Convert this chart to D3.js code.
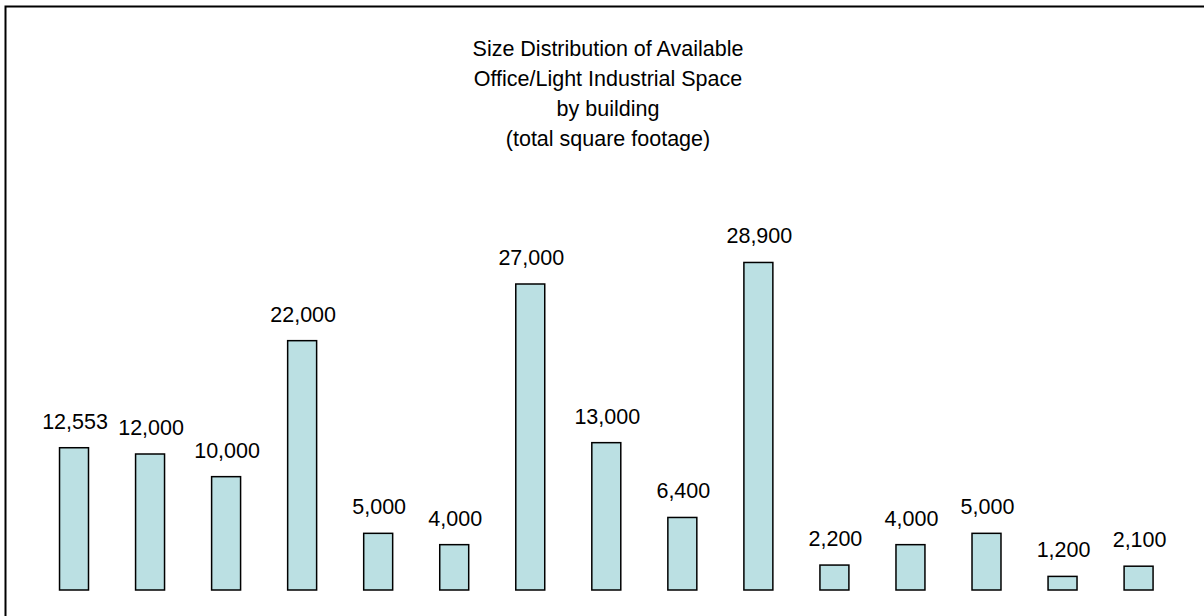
<!DOCTYPE html>
<html>
<head>
<meta charset="utf-8">
<script src="https://cdn.jsdelivr.net/npm/d3@7"></script>
<style>
  html, body { margin: 0; padding: 0; background: #fff; }
  svg { display: block; }
  text { font-family: "Liberation Sans", Arial, sans-serif; fill: #000; }
</style>
</head>
<body>
<svg id="chart" width="1204" height="616"></svg>
<script>
// Buildings with available office / light industrial space
const buildings = ["B1", "B2", "B3", "B4", "B5", "B6", "B7", "B8", "B9", "B10", "B11", "B12", "B13", "B14", "B15"];
// Total square footage per building
const squareFeet = [12553, 12000, 10000, 22000, 5000, 4000, 27000, 13000, 6400, 28900, 2200, 4000, 5000, 1200, 2100];
const titleLines = [
  "Size Distribution of Available",
  "Office/Light Industrial Space",
  "by building",
  "(total square footage)"
];

const svg = d3.select("#chart");
const W = 1204, H = 616;

svg.append("rect")
  .attr("width", W).attr("height", H)
  .attr("fill", "#fff");

// Chart frame (extends past the right and bottom edges)
svg.append("rect")
  .attr("x", 5.5).attr("y", 6.5)
  .attr("width", 1220).attr("height", 640)
  .attr("fill", "none")
  .attr("stroke", "#000")
  .attr("stroke-width", 2);

// Title
svg.append("g")
  .selectAll("text")
  .data(titleLines)
  .join("text")
  .attr("x", 608)
  .attr("y", (d, i) => 56 + i * 30)
  .attr("text-anchor", "middle")
  .attr("font-size", 21.5)
  .text(d => d);

const x = d3.scaleBand()
  .domain(buildings)
  .range([36, 1176.6])
  .paddingInner(0.619)
  .paddingOuter(0.3095);

const y = d3.scaleLinear()
  .domain([0, 30000])
  .range([590, 250]);

const fmt = d3.format(",");
const rows = buildings.map((b, i) => ({ b, v: squareFeet[i] }));

svg.append("g")
  .selectAll("rect")
  .data(rows)
  .join("rect")
  .attr("x", d => x(d.b))
  .attr("y", d => y(d.v))
  .attr("width", x.bandwidth())
  .attr("height", d => y(0) - y(d.v))
  .attr("fill", "#BBE0E3")
  .attr("stroke", "#000")
  .attr("stroke-width", 1.5);

svg.append("g")
  .selectAll("text")
  .data(rows)
  .join("text")
  .attr("x", d => x(d.b) + x.bandwidth() / 2 + 1)
  .attr("y", d => y(d.v) - 19)
  .attr("text-anchor", "middle")
  .attr("font-size", 21.5)
  .text(d => fmt(d.v));
</script>
</body>
</html>
